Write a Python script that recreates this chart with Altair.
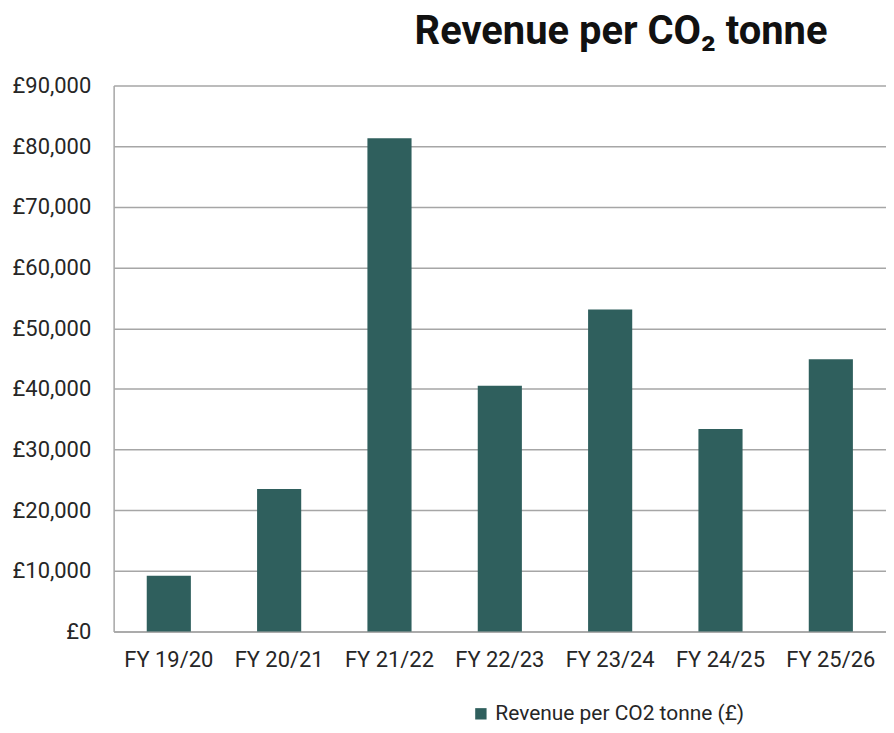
import altair as alt
import pandas as pd

years = ["FY 19/20", "FY 20/21", "FY 21/22", "FY 22/23", "FY 23/24", "FY 24/25", "FY 25/26"]
revenue = [9200, 23500, 81300, 40500, 53100, 33400, 44900]
series_name = "Revenue per CO2 tonne (£)"
y_ticks = [0, 10000, 20000, 30000, 40000, 50000, 60000, 70000, 80000, 90000]

df = pd.DataFrame({"year": years, "revenue": revenue, "series": [series_name] * len(years)})

FONT = "Roboto"
GRID = "#A6A6A6"
BAR = "#2F5F5D"

chart = alt.Chart(df).mark_bar(color=BAR).encode(
    x=alt.X("year:N", sort=years, title=None,
            scale=alt.Scale(paddingInner=0.6, paddingOuter=0.3),
            axis=alt.Axis(labelAngle=0, labelFont=FONT, labelFontSize=22, labelColor="#262626",
                          labelPadding=18, ticks=False, domainColor=GRID, domainWidth=1.5,
                          grid=False)),
    y=alt.Y("revenue:Q", title=None,
            scale=alt.Scale(domain=[0, 90000], nice=False),
            axis=alt.Axis(values=y_ticks, labelExpr="'£' + format(datum.value, ',')",
                          labelFont=FONT, labelFontSize=22,
                          labelColor="#262626", labelPadding=23, ticks=False,
                          domainColor=GRID, domainWidth=1.5, gridColor=GRID, gridWidth=1.5)),
    color=alt.Color("series:N", scale=alt.Scale(range=[BAR]),
                    legend=alt.Legend(title=None, orient="none", legendX=358, legendY=620,
                                      symbolType="square", symbolSize=130, symbolStrokeWidth=0,
                                      labelFont=FONT, labelFontSize=21, labelColor="#262626",
                                      labelOffset=4, labelLimit=0)),
).properties(
    width=775,
    height=548,
    title=alt.TitleParams("Revenue per CO₂ tonne", font=FONT, fontSize=40, fontWeight="bold",
                          color="#111111", anchor="start", frame="group", dx=302, dy=37,
                          offset=28, baseline="alphabetic"),
    autosize=alt.AutoSizeParams(type="none"),
    padding={"left": 106, "top": 76.5, "right": 0, "bottom": 97},
).configure(background="white").configure_view(stroke=None)

chart.save("out.html", embed_options={"renderer": "svg", "actions": False})
